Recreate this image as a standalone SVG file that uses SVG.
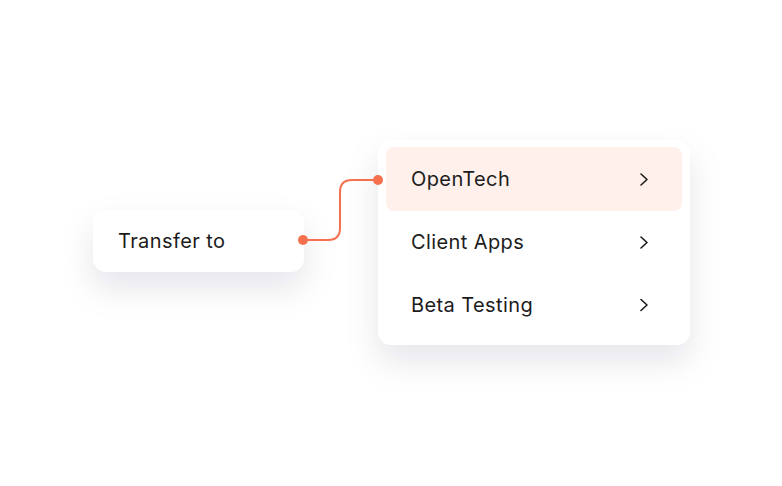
<svg xmlns="http://www.w3.org/2000/svg" width="782" height="486" viewBox="0 0 782 486">
<defs>
<filter id="sh" x="-30%" y="-40%" width="160%" height="220%">
<feDropShadow dx="0" dy="16" stdDeviation="16" flood-color="#1a1f36" flood-opacity="0.1"/>
</filter>
<style>
.card{fill:#ffffff;filter:url(#sh)}
.lbl{font-family:Inter,"Liberation Sans",sans-serif;font-size:20px;letter-spacing:0.4px;fill:#1c1c1c}
.chev{fill:none;stroke:#1a1a1a;stroke-width:1.6;stroke-linecap:round;stroke-linejoin:round}
.conn{fill:none;stroke:#F4704F;stroke-width:2}
.dot{fill:#F4704F}
</style>
</defs>
<rect width="782" height="486" fill="#ffffff"/>
<g id="transfer">
<rect class="card" x="93" y="210" width="211" height="62" rx="14"/>
<text class="lbl" x="118" y="248">Transfer to</text>
</g>
<g id="menu">
<rect class="card" x="378" y="140" width="312" height="205" rx="14"/>
<rect x="386" y="147" width="296" height="64" rx="8" fill="#FFF0EC"/>
<g id="opentech">
<text class="lbl" x="411" y="186">OpenTech</text>
<path class="chev" d="M641 174 L647 179.5 L641 185"/>
</g>
<g id="clientapps">
<text class="lbl" x="411" y="249">Client Apps</text>
<path class="chev" d="M641 237 L647 242.5 L641 248"/>
</g>
<g id="betatesting">
<text class="lbl" x="411" y="312">Beta Testing</text>
<path class="chev" d="M641 299.5 L647 305 L641 310.5"/>
</g>
</g>
<g id="connectors">
<path class="conn" d="M303 240 H328 Q340 240 340 228 V192 Q340 180 352 180 H378"/>
<circle class="dot" cx="303" cy="240" r="5"/>
<circle class="dot" cx="378" cy="180" r="5"/>
</g>
</svg>
